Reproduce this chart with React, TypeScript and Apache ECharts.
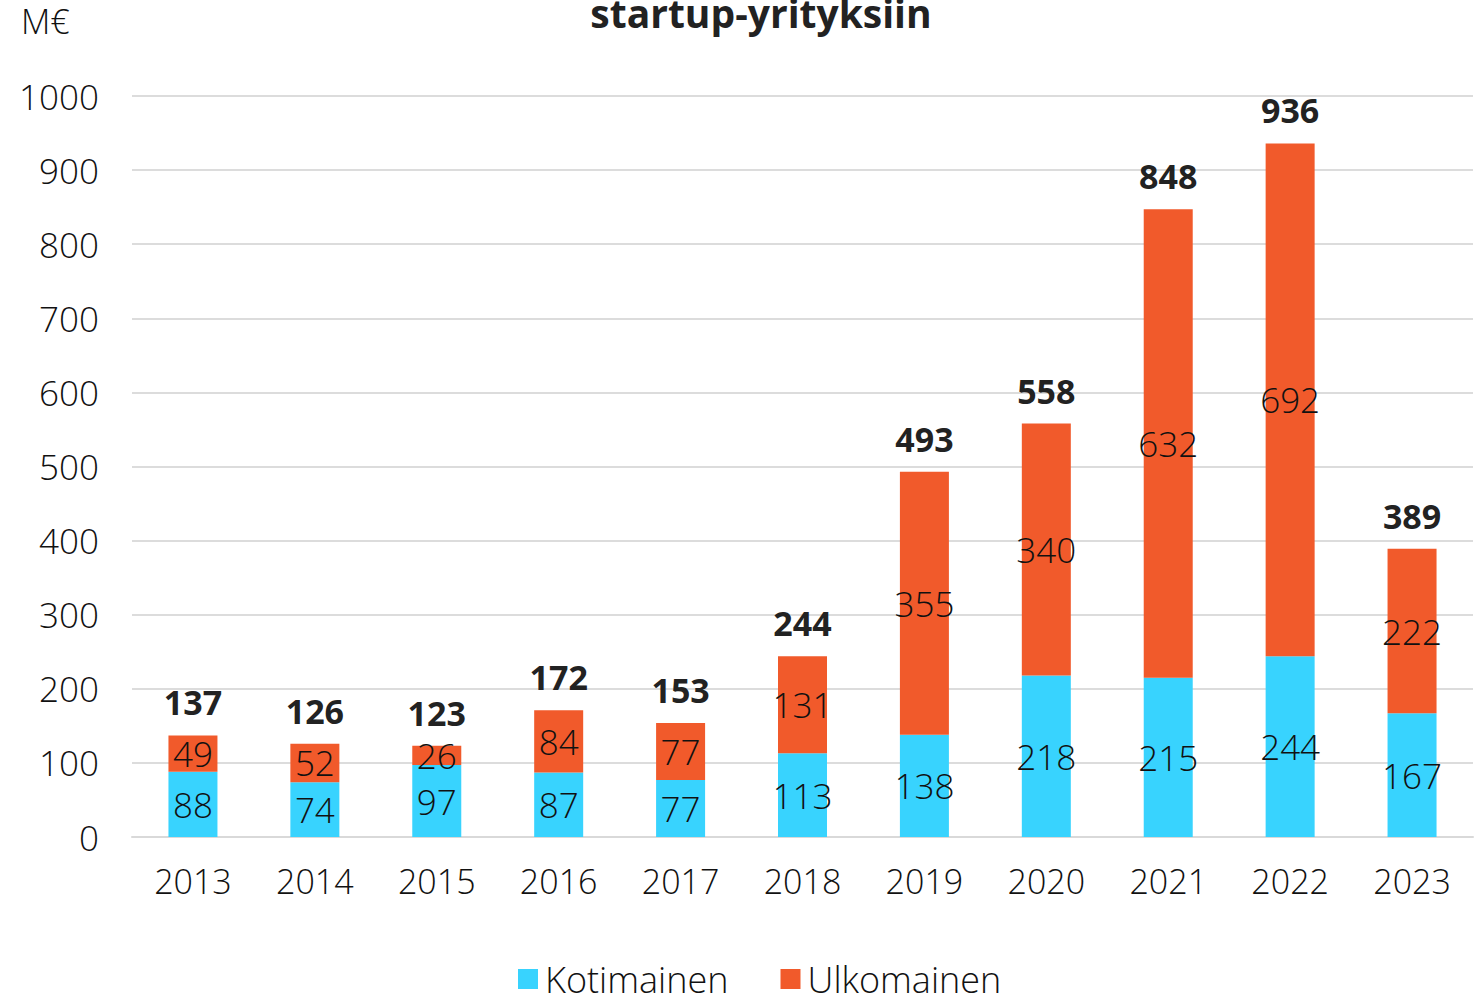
import React, { useEffect, useRef } from "react";
import * as echarts from "echarts";

const years = ["2013", "2014", "2015", "2016", "2017", "2018", "2019", "2020", "2021", "2022", "2023"];
const kotimainen = [88, 74, 97, 87, 77, 113, 138, 218, 215, 244, 167];
const ulkomainen = [49, 52, 26, 84, 77, 131, 355, 340, 632, 692, 222];
const totals = [137, 126, 123, 172, 153, 244, 493, 558, 848, 936, 389];

const FONT = "Open Sans";

export default function App() {
  const ref = useRef<HTMLDivElement>(null);
  useEffect(() => {
    const chart = echarts.init(ref.current!, null, { renderer: "svg" });
    chart.setOption({
      animation: false,
      textStyle: { fontFamily: FONT },
      title: {
        text: "startup-yrityksiin",
        left: 756,
        textAlign: "center",
        top: -12,
        textStyle: { fontSize: 39, fontWeight: "bold", color: "#222", fontFamily: FONT },
      },
      graphic: [
        {
          type: "text",
          left: 21,
          top: 4,
          style: { text: "M€", fontSize: 34, fill: "#111", fontFamily: FONT, fontWeight: 300 },
        },
      ],
      legend: {
        bottom: 0,
        left: 513,
        itemWidth: 20,
        itemHeight: 20,
        itemGap: 52,
        icon: "rect",
        textStyle: { fontSize: 36, color: "#111", fontFamily: FONT, fontWeight: 300, padding: [0, 0, 0, 2] },
        data: ["Kotimainen", "Ulkomainen"],
      },
      grid: { left: 132, right: 11, top: 96, bottom: 165, containLabel: false },
      xAxis: {
        type: "category",
        data: years,
        axisLine: { lineStyle: { color: "#d9d9d9", width: 2 } },
        axisTick: { show: false },
        axisLabel: { fontSize: 34, color: "#111", margin: 27, fontFamily: FONT, fontWeight: 300 },
      },
      yAxis: {
        type: "value",
        min: 0,
        max: 1000,
        interval: 100,
        axisLine: { show: false },
        axisTick: { show: false },
        splitLine: { lineStyle: { color: "#dcdcdc", width: 2 } },
        axisLabel: {
          fontSize: 35,
          color: "#111",
          margin: 33,
          fontFamily: FONT,
          fontWeight: 300,
          formatter: (v: number) => String(v),
        },
      },
      series: [
        {
          name: "Kotimainen",
          type: "bar",
          stack: "a",
          data: kotimainen,
          barWidth: 49,
          itemStyle: { color: "#38d3fe" },
          label: { show: true, position: "inside", fontSize: 35, color: "#111", fontFamily: FONT, fontWeight: 300 },
        },
        {
          name: "Ulkomainen",
          type: "bar",
          stack: "a",
          data: ulkomainen,
          barWidth: 49,
          itemStyle: { color: "#f15a2b" },
          label: { show: true, position: "inside", fontSize: 35, color: "#111", fontFamily: FONT, fontWeight: 300 },
        },
        {
          name: "Yhteensä",
          type: "bar",
          stack: "a",
          data: totals.map(() => 0),
          barWidth: 49,
          itemStyle: { color: "transparent" },
          label: {
            show: true,
            position: "top",
            distance: 16,
            formatter: (p: any) => String(totals[p.dataIndex]),
            fontSize: 34,
            fontWeight: "bold",
            color: "#222",
            fontFamily: FONT,
          },
        },
      ],
    });
    return () => chart.dispose();
  }, []);
  return <div ref={ref} style={{ width: 1484, height: 1002, position: "absolute", left: 0, top: 0 }} />;
}
